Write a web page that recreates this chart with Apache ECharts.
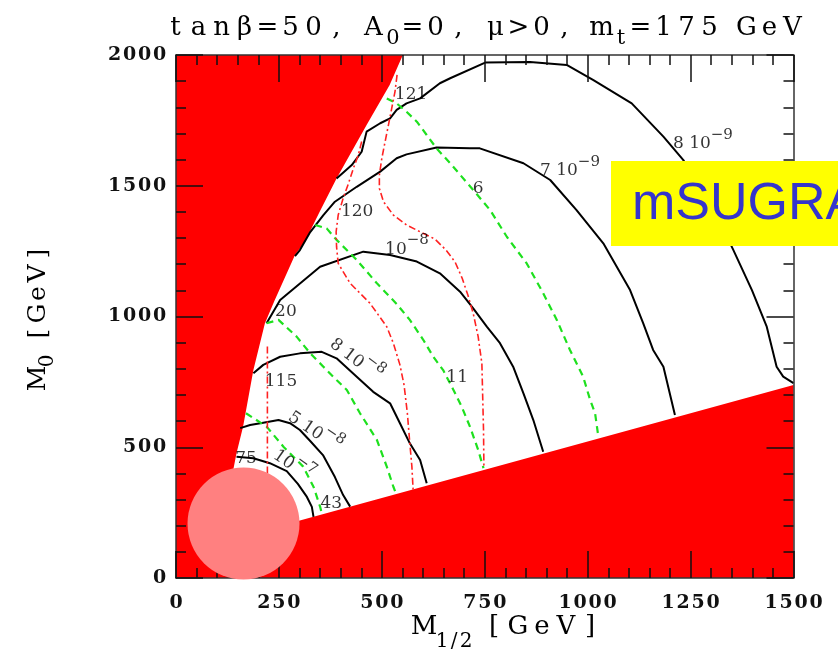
<!DOCTYPE html>
<html>
<head>
<meta charset="utf-8">
<script src="https://cdn.jsdelivr.net/npm/echarts@6/dist/echarts.min.js"></script>
<style>
  html, body { margin: 0; padding: 0; background: #ffffff; }
  #c { width: 838px; height: 662px; }
</style>
</head>
<body>
<div id="c"></div>
<script>
// Axis ranges (GeV)
const xRange = [0, 1500];
const yRange = [0, 2000];
const xStep = 250;
const yStep = 500;

// Excluded parameter space: left wall (top to bottom), then the straight lower edge
const excludedLeftEdge = [[551,2000],[519,1885],[463,1732],[390,1528],[349,1401],[313,1286],[289,1235],[240,1063],[216,974],[188,795],[163,579],[147,477],[139,413],[125,300],[115,140]];
const excludedLowerEdge = [[115,140],[1500,738]];

// Branching-ratio contours (solid black)
const br8e9 = [[390,1528],[427,1579],[451,1630],[463,1707],[496,1739],[520,1758],[536,1790],[560,1815],[593,1834],[641,1892],[666,1911],[751,1971],[860,1973],[949,1962],[1014,1904],[1107,1815],[1184,1688],[1232,1599],[1304,1420],[1354,1254],[1399,1101],[1435,961],[1459,808],[1475,770],[1500,745]];
const br7e9 = [[289,1231],[301,1254],[326,1323],[358,1388],[386,1439],[439,1496],[496,1554],[536,1605],[560,1620],[633,1646],[714,1643],[738,1643],[844,1586],[909,1522],[973,1407],[1038,1280],[1103,1101],[1135,974],[1159,872],[1184,808],[1212,623]];
const br1e8 = [[220,974],[253,1063],[350,1190],[455,1248],[520,1235],[585,1210],[641,1165],[690,1095],[722,1031],[755,961],[787,898],[819,808],[844,706],[868,604],[892,483]];
const br8e8 = [[188,783],[212,815],[253,846],[301,859],[354,865],[390,840],[439,770],[479,712],[520,668],[544,592],[568,515],[593,451],[609,362]];
const br5e8 = [[156,573],[180,585],[212,594],[249,604],[277,592],[301,566],[326,524],[357,470],[386,386],[406,317],[423,273]];
const br1e7 = [[147,464],[188,458],[228,439],[269,409],[296,360],[318,310],[330,272],[334,234]];

// Dashed green contours
const g43 = [[170,630],[220,579],[261,502],[309,426],[334,349],[350,273],[354,247]];
const g20 = [[220,974],[249,987],[293,923],[326,859],[358,808],[390,757],[415,719],[447,630],[488,528],[512,426],[528,349],[536,317]];
const g11 = [[338,1350],[366,1337],[390,1293],[439,1216],[488,1127],[536,1048],[568,987],[601,910],[625,846],[649,795],[674,719],[694,655],[714,579],[734,490],[747,420]];
const g6 = [[512,1834],[536,1815],[560,1783],[585,1745],[609,1694],[633,1643],[666,1586],[722,1484],[763,1407],[804,1304],[852,1203],[892,1089],[925,987],[957,872],[989,770],[1006,681],[1018,630],[1026,540]];

// Light Higgs mass contours (red dash-dot)
const mh115 = [[222,885],[222,300]];
const mh120 = [[451,1669],[443,1618],[431,1567],[419,1509],[406,1452],[394,1388],[389,1324],[390,1267],[394,1203],[423,1127],[471,1051],[512,961],[528,898],[544,815],[554,738],[562,630],[568,515],[573,426],[576,337]];
const mh121 = [[537,1924],[532,1860],[524,1796],[516,1732],[508,1669],[500,1605],[494,1541],[494,1490],[504,1439],[528,1388],[560,1350],[593,1324],[629,1296],[656,1254],[678,1208],[695,1147],[709,1082],[722,1012],[734,923],[743,821],[745,693],[747,566],[748,420]];

// Contour labels: [x, y, text] and [x, y, prefix, exponent]
const plainTags = [[571,1847,'121'],[440,1400,'120'],[255,750,'115'],[267,1017,'20'],[683,765,'11'],[734,1491,'6'],[377,283,'43'],[170,455,'75']];
const brTags = [[561,1273,'10','−8'],[957,1572,'7 10','−9'],[1280,1675,'8 10','−9'],[442,845,'8 10','−8'],[342,570,'5 10','−8'],[289,440,'10','−7']];
const brTagTilt = { '442,845': -37, '342,570': -34, '289,440': -35 };

// Highlighted blob over the low-mass corner
const blob = [[164,208]];

const serif = '"DejaVu Serif"';

function spread(str, style) {
  return Array.from(str).map(ch => '{' + style + '|' + ch + '}').join('');
}

const tickRich = { d: { width: 15, align: 'center', fontFamily: serif, fontWeight: 'bold', fontSize: 19, color: '#111' } };

function axisPair(kind, pos, showLabel) {
  const isX = kind === 'x';
  return {
    type: 'value',
    position: pos,
    min: isX ? xRange[0] : yRange[0],
    max: isX ? xRange[1] : yRange[1],
    interval: isX ? xStep : yStep,
    z: 5,
    axisLine: { show: true, onZero: false, lineStyle: { color: '#333', width: 1.5 } },
    axisTick: { show: true, inside: true, length: 27, lineStyle: { color: '#111', width: 1.5 } },
    minorTick: { show: true, splitNumber: 5, length: 10, lineStyle: { color: '#111', width: 1.5 } },
    splitLine: { show: false },
    minorSplitLine: { show: false },
    axisLabel: showLabel ? {
      show: true,
      margin: isX ? 16 : 9,
      formatter: v => spread(String(v), 'd'),
      rich: tickRich
    } : { show: false }
  };
}

function curve(data, color, type, width, z) {
  return {
    type: 'line', data, symbol: 'none', showSymbol: false, silent: true,
    animation: false, z, clip: true,
    lineStyle: { color, width, type }
  };
}

const labelRich = {
  n: { fontFamily: serif, fontSize: 17, color: '#000', verticalAlign: 'bottom', lineHeight: 25 },
  e: { fontFamily: serif, fontSize: 15, color: '#000', verticalAlign: 'top', lineHeight: 25 }
};

const redPolygon = [[0, 0], [0, 2000]].concat(excludedLeftEdge, excludedLowerEdge.slice(1), [[1500, 0]]);

const black = '#000000', green = '#1ee01e', red = '#ff2222';
const dashG = [7, 5], dashR = [7, 3, 2, 3];

const option = {
  animation: false,
  grid: { left: 176, top: 55, width: 617.5, height: 523, containLabel: false, outerBoundsMode: 'none' },
  xAxis: [axisPair('x', 'bottom', true), axisPair('x', 'top', false)],
  yAxis: [axisPair('y', 'left', true), axisPair('y', 'right', false)],
  series: [
    {
      type: 'custom', z: 1, silent: true, animation: false,
      data: [[0, 0]],
      renderItem: function (params, api) {
        return {
          type: 'polygon',
          shape: { points: redPolygon.map(p => api.coord(p)) },
          style: { fill: '#ff0000' }
        };
      }
    },
    curve(br8e9, black, 'solid', 2, 2),
    curve(br7e9, black, 'solid', 2, 2),
    curve(br1e8, black, 'solid', 2, 2),
    curve(br8e8, black, 'solid', 2, 2),
    curve(br5e8, black, 'solid', 2, 2),
    curve(br1e7, black, 'solid', 2, 2),
    curve(g43, green, dashG, 2.2, 2),
    curve(g20, green, dashG, 2.2, 2),
    curve(g11, green, dashG, 2.2, 2),
    curve(g6, green, dashG, 2.2, 2),
    curve(mh115, red, dashR, 1.6, 2),
    curve(mh120, red, dashR, 1.6, 2),
    curve(mh121, red, dashR, 1.6, 2),
    {
      type: 'scatter', z: 4, silent: true, animation: false, symbolSize: 1,
      itemStyle: { color: 'transparent' },
      data: plainTags.map(t => ({ value: [t[0], t[1]], name: t[2] })),
      label: {
        show: true, position: 'inside',
        formatter: p => p.name,
        fontFamily: serif, fontSize: 17, color: '#000'
      }
    },
    {
      type: 'scatter', z: 4, silent: true, animation: false, symbolSize: 1,
      itemStyle: { color: 'transparent' },
      data: brTags.map(t => ({
        value: [t[0], t[1]],
        name: '{n|' + t[2] + '}{e|' + t[3] + '}',
        label: { rotate: brTagTilt[t[0] + ',' + t[1]] || 0 }
      })),
      label: {
        show: true, position: 'inside',
        formatter: p => p.name,
        rich: labelRich
      }
    },
    {
      type: 'scatter', z: 8, silent: true, animation: false, clip: false,
      symbol: 'circle', symbolSize: 112,
      itemStyle: { color: '#ff8080', opacity: 1 },
      data: blob
    }
  ],
  graphic: [
    {
      type: 'text', x: 484, y: 15, z: 50,
      style: {
        text: spread('tanβ=50,', 'c') + '{s| }{c|A}{u|0}' + spread('=0,', 'c') + '{s| }' +
              spread('μ>0,', 'c') + '{s| }{c|m}{u|t}' + spread('=175', 'c') + '{s| }' + spread('GeV', 'c'),
        align: 'center', verticalAlign: 'top',
        rich: {
          c: { fontFamily: serif, fontSize: 26, fill: '#000', width: 23, align: 'center', verticalAlign: 'top', lineHeight: 34 },
          s: { fontFamily: serif, fontSize: 26, width: 14, verticalAlign: 'top', lineHeight: 34 },
          u: { fontFamily: serif, fontSize: 21, fill: '#000', width: 16, align: 'center', verticalAlign: 'bottom', lineHeight: 34 }
        }
      }
    },
    {
      type: 'text', x: 507, y: 614, z: 50,
      style: {
        text: '{c|M}' + spread('1/2', 'u') + '{s| }' + spread('[GeV]', 'c'),
        align: 'center', verticalAlign: 'top',
        rich: {
          c: { fontFamily: serif, fontSize: 26, fill: '#000', width: 24, align: 'center', verticalAlign: 'top', lineHeight: 38 },
          s: { fontFamily: serif, fontSize: 26, width: 10, verticalAlign: 'top', lineHeight: 38 },
          u: { fontFamily: serif, fontSize: 20, fill: '#000', width: 12, align: 'center', verticalAlign: 'bottom', lineHeight: 38 }
        }
      }
    },
    {
      type: 'text', x: 42, y: 316, rotation: Math.PI / 2, z: 50,
      style: {
        text: '{c|M}{u|0}{s| }' + spread('[GeV]', 'c'),
        align: 'center', verticalAlign: 'middle',
        rich: {
          c: { fontFamily: serif, fontSize: 25, fill: '#000', width: 20, align: 'center', verticalAlign: 'top', lineHeight: 32 },
          s: { fontFamily: serif, fontSize: 25, width: 10, verticalAlign: 'top', lineHeight: 32 },
          u: { fontFamily: serif, fontSize: 20, fill: '#000', width: 15, align: 'center', verticalAlign: 'bottom', lineHeight: 32 }
        }
      }
    },
    {
      type: 'rect', z: 100,
      shape: { x: 611, y: 161, width: 240, height: 85 },
      style: { fill: '#ffff00' }
    },
    {
      type: 'text', x: 632, y: 205, z: 101,
      style: {
        text: 'mSUGRA',
        font: '52px "Liberation Sans"',
        fill: '#3535cc',
        align: 'left', verticalAlign: 'middle'
      }
    }
  ]
};

const chart = echarts.init(document.getElementById('c'));
chart.setOption(option);
</script>
</body>
</html>
